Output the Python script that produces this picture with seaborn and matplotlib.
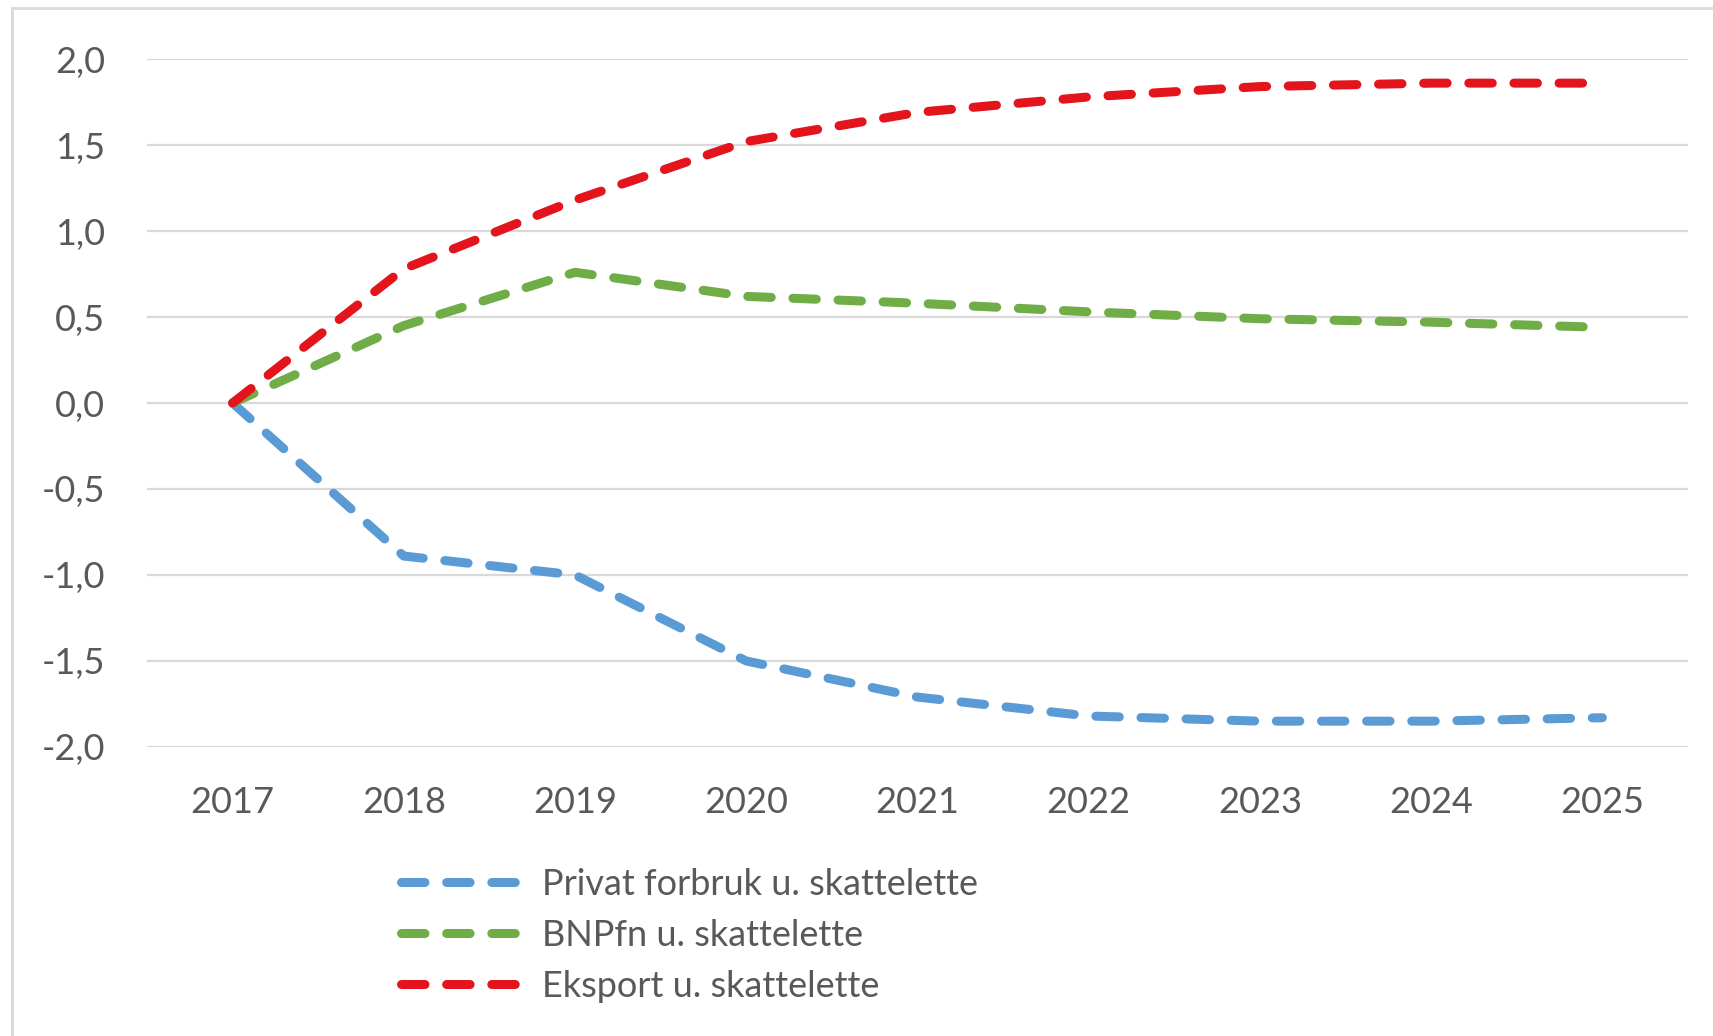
import matplotlib
matplotlib.use("Agg")
import matplotlib.pyplot as plt
from matplotlib.patches import Rectangle
import seaborn as sns
import pandas as pd

years = ["2017", "2018", "2019", "2020", "2021", "2022", "2023", "2024", "2025"]
privat_forbruk = [0.0, -0.89, -1.00, -1.50, -1.71, -1.82, -1.85, -1.85, -1.83]
bnpfn = [0.0, 0.45, 0.76, 0.62, 0.58, 0.53, 0.49, 0.47, 0.44]
eksport = [0.0, 0.78, 1.18, 1.52, 1.69, 1.78, 1.84, 1.86, 1.86]

series_names = ["Privat forbruk u. skattelette", "BNPfn u. skattelette", "Eksport u. skattelette"]
series_values = [privat_forbruk, bnpfn, eksport]
colors = ["#5B9BD5", "#70AD47", "#E3141B"]
y_ticks = [-2.0, -1.5, -1.0, -0.5, 0.0, 0.5, 1.0, 1.5, 2.0]

rows = []
for name, vals in zip(series_names, series_values):
    for i, v in enumerate(vals):
        rows.append({"pos": i, "value": v, "series": name})
df = pd.DataFrame(rows)

sns.set_theme(style="white")
plt.rcParams["font.family"] = ["Lato", "DejaVu Sans"]

fig = plt.figure(figsize=(17.13, 10.36), dpi=100)
ax = fig.add_axes([0.0858, 0.279, 0.8996, 0.664])

sns.lineplot(
    data=df, x="pos", y="value", hue="series", style="series",
    palette=dict(zip(series_names, colors)),
    dashes={n: (2.6, 2.4) for n in series_names},
    linewidth=6.5, ax=ax, legend=False, zorder=3,
)
for line in ax.get_lines():
    line.set_dash_capstyle("round")
    line.set_solid_capstyle("round")

ax.set_xlim(-0.5, len(years) - 0.5)
ax.set_ylim(-2.0, 2.0)
ax.set_xticks(range(len(years)))
ax.set_xticklabels(years)
ax.set_yticks(y_ticks)
ax.set_yticklabels([f"{t:.1f}".replace(".", ",") for t in y_ticks])
ax.set_xlabel("")
ax.set_ylabel("")
for s in ax.spines.values():
    s.set_visible(False)
ax.grid(False)
for t in y_ticks:
    ax.axhline(t, color="#D9D9D9", linewidth=1.6, zorder=1)
ax.tick_params(axis="both", length=0, labelsize=26, labelcolor="#595959")
ax.tick_params(axis="x", pad=28)
ax.tick_params(axis="y", pad=30)

handles = [plt.Line2D([0], [0], color=c, linewidth=6.5, dashes=(2.6, 2.4),
                      dash_capstyle="round") for c in colors]
leg = fig.legend(handles, series_names, loc="upper left",
                 bbox_to_anchor=(0.2235, 0.18), frameon=False,
                 fontsize=26, labelcolor="#595959", handlelength=3.5,
                 handletextpad=0.4, labelspacing=0.5, borderpad=0)

fig.patches.append(Rectangle((12 / 1713, -0.01), 1.02, 1 - 8 / 1036 + 0.01,
                             transform=fig.transFigure, fill=False,
                             edgecolor="#D9D9D9", linewidth=2))

fig.savefig("out.png", dpi=100)
